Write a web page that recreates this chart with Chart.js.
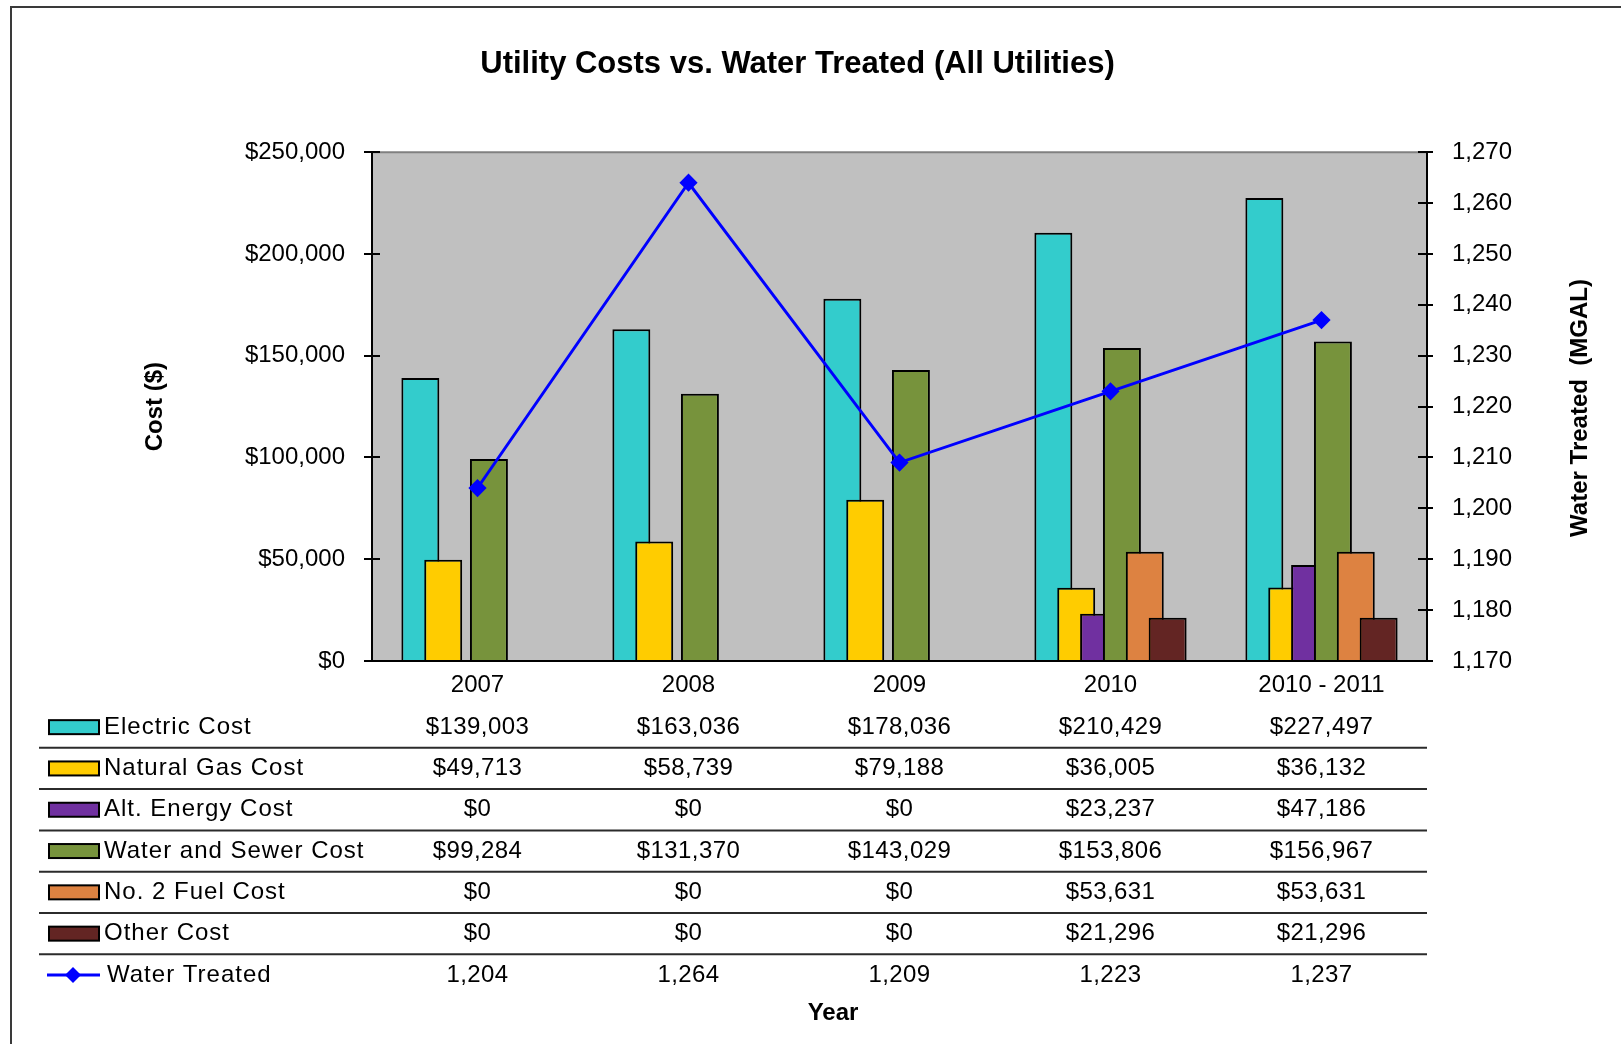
<!DOCTYPE html>
<html>
<head>
<meta charset="utf-8">
<title>Utility Costs vs. Water Treated (All Utilities)</title>
<script src="https://cdn.jsdelivr.net/npm/chart.js@4.4.1/dist/chart.umd.min.js"></script>
<style>
  html, body { margin: 0; padding: 0; background: #ffffff; }
  #wrap { position: relative; width: 1621px; height: 1044px; }
</style>
</head>
<body>
<div id="wrap"><canvas id="chart" width="1621" height="1044"></canvas></div>
<script>
// ---- data ----
const categories = ['2007', '2008', '2009', '2010', '2010 - 2011'];
const electricCost = [139003, 163036, 178036, 210429, 227497];
const naturalGasCost = [49713, 58739, 79188, 36005, 36132];
const altEnergyCost = [0, 0, 0, 23237, 47186];
const waterSewerCost = [99284, 131370, 143029, 153806, 156967];
const fuelOilCost = [0, 0, 0, 53631, 53631];
const otherCost = [0, 0, 0, 21296, 21296];
const waterTreated = [1204, 1264, 1209, 1223, 1237];

const costTicks = { min: 0, max: 250000, step: 50000 };
const waterTicks = { min: 1170, max: 1270, step: 10 };

const FONT = "'Liberation Sans', Arial, sans-serif";

const costSeries = [
  { label: 'Electric Cost', data: electricCost, color: '#33CCCC' },
  { label: 'Natural Gas Cost', data: naturalGasCost, color: '#FFCC00' },
  { label: 'Alt. Energy Cost', data: altEnergyCost, color: '#7030A0' },
  { label: 'Water and Sewer Cost', data: waterSewerCost, color: '#77933C' },
  { label: 'No. 2 Fuel Cost', data: fuelOilCost, color: '#DD8241' },
  { label: 'Other Cost', data: otherCost, color: '#632523' }
];

const money = v => '$' + Math.round(v).toLocaleString('en-US');
const count = v => Math.round(v).toLocaleString('en-US');

const datasets = costSeries.map(s => ({
  type: 'bar',
  label: s.label,
  data: s.data,
  backgroundColor: s.color,
  borderColor: '#000000',
  borderWidth: 2,
  yAxisID: 'y',
  categoryPercentage: 0.65,
  barPercentage: 1.66
}));
datasets.push({
  type: 'line',
  label: 'Water Treated',
  data: waterTreated,
  borderColor: '#0000FF',
  backgroundColor: '#0000FF',
  borderWidth: 3,
  pointStyle: 'rectRot',
  pointRadius: 7,
  pointBackgroundColor: '#0000FF',
  pointBorderColor: '#0000FF',
  tension: 0,
  yAxisID: 'y1'
});

// Frame, grey plot area and tick marks that cross into the plot
const backdrop = {
  id: 'backdrop',
  beforeDraw(chart) {
    const { ctx, chartArea: a } = chart;
    ctx.save();
    ctx.strokeStyle = '#3a3a3a';
    ctx.lineWidth = 2;
    ctx.beginPath();
    ctx.moveTo(11, chart.height);
    ctx.lineTo(11, 7);
    ctx.lineTo(chart.width, 7);
    ctx.stroke();

    ctx.fillStyle = '#C0C0C0';
    ctx.fillRect(a.left, a.top, a.right - a.left, a.bottom - a.top);
    ctx.strokeStyle = '#808080';
    ctx.lineWidth = 2;
    ctx.beginPath();
    ctx.moveTo(a.left, a.top);
    ctx.lineTo(a.right, a.top);
    ctx.stroke();

    ctx.strokeStyle = '#000000';
    ctx.lineWidth = 2;
    const y = chart.scales.y, y1 = chart.scales.y1;
    y.ticks.forEach((t, i) => {
      const py = Math.round(y.getPixelForTick(i));
      ctx.beginPath(); ctx.moveTo(a.left, py); ctx.lineTo(a.left + 8, py); ctx.stroke();
    });
    y1.ticks.forEach((t, i) => {
      const py = Math.round(y1.getPixelForTick(i));
      ctx.beginPath(); ctx.moveTo(a.right - 9, py); ctx.lineTo(a.right, py); ctx.stroke();
    });
    ctx.restore();
  }
};

// Later cost series sit in front of earlier ones; the line goes on top of all bars
const drawOrder = {
  id: 'drawOrder',
  beforeDatasetsDraw(chart) {
    const metas = chart.getSortedVisibleDatasetMetas().slice().sort((p, q) => p.index - q.index);
    const ordered = metas.filter(m => m.type === 'bar').concat(metas.filter(m => m.type !== 'bar'));
    ordered.forEach(m => {
      if (typeof chart._drawDataset === 'function') chart._drawDataset(m);
      else m.controller.draw();
    });
    return false;
  }
};

// Data table under the x axis, right-hand axis title and the "Year" caption
const dataTable = {
  id: 'dataTable',
  afterDraw(chart) {
    const { ctx, chartArea: a } = chart;
    const xs = chart.scales.x;
    const rowTop = a.bottom + 45.5;
    const rowH = 41.3;
    const rows = costSeries.map(s => ({ label: s.label, color: s.color, values: s.data.map(money), kind: 'bar' }));
    rows.push({ label: 'Water Treated', color: '#0000FF', values: waterTreated.map(count), kind: 'line' });

    ctx.save();
    ctx.textBaseline = 'middle';
    ctx.fillStyle = '#000000';
    rows.forEach((r, i) => {
      const cy = rowTop + rowH * (i + 0.5);
      if (r.kind === 'bar') {
        ctx.fillStyle = r.color;
        ctx.fillRect(49, cy - 7, 50, 14);
        ctx.strokeStyle = '#000000';
        ctx.lineWidth = 2;
        ctx.strokeRect(49, cy - 7, 50, 14);
      } else {
        ctx.strokeStyle = r.color;
        ctx.lineWidth = 3;
        ctx.beginPath(); ctx.moveTo(47, cy); ctx.lineTo(100, cy); ctx.stroke();
        ctx.fillStyle = r.color;
        ctx.beginPath();
        ctx.moveTo(73, cy - 8); ctx.lineTo(81, cy); ctx.lineTo(73, cy + 8); ctx.lineTo(65, cy);
        ctx.closePath(); ctx.fill();
      }
      ctx.fillStyle = '#000000';
      ctx.font = '24px ' + FONT;
      ctx.textAlign = 'left';
      ctx.letterSpacing = '1px';
      ctx.fillText(r.label, r.kind === 'bar' ? 104 : 107, cy);
      ctx.letterSpacing = '0.4px';
      ctx.textAlign = 'center';
      r.values.forEach((v, j) => ctx.fillText(v, xs.getPixelForValue(j), cy));
      ctx.letterSpacing = '0px';
      if (i < rows.length - 1) {
        const ly = rowTop + rowH * (i + 1);
        ctx.strokeStyle = '#2b2b2b';
        ctx.lineWidth = 2;
        ctx.beginPath(); ctx.moveTo(39, ly); ctx.lineTo(a.right, ly); ctx.stroke();
      }
    });

    ctx.font = 'bold 24px ' + FONT;
    ctx.textAlign = 'center';
    ctx.fillText('Year', 833, 1013);

    ctx.translate(1580, 408);
    ctx.rotate(-Math.PI / 2);
    ctx.fillText('Water Treated  (MGAL)', 0, 0);
    ctx.restore();
  }
};

new Chart(document.getElementById('chart'), {
  data: { labels: categories, datasets },
  options: {
    responsive: false,
    animation: false,
    events: [],
    layout: { padding: { left: 0, right: 26, top: 0, bottom: 0 } },
    plugins: {
      legend: { display: false },
      tooltip: { enabled: false },
      title: {
        display: true,
        text: 'Utility Costs vs. Water Treated (All Utilities)',
        color: '#000000',
        font: { family: FONT, size: 31, weight: 'bold' },
        padding: { top: 46, bottom: 69 }
      }
    },
    scales: {
      x: {
        type: 'category',
        offset: true,
        grid: { display: false, drawTicks: false },
        border: { display: true, color: '#000000', width: 2 },
        ticks: { color: '#000000', font: { family: FONT, size: 24 }, padding: 10, maxRotation: 0, autoSkip: false },
        afterFit(scale) { scale.height = 383; }
      },
      y: {
        position: 'left',
        min: costTicks.min,
        max: costTicks.max,
        grid: { drawOnChartArea: false, tickLength: 8, color: '#000000', lineWidth: 2 },
        border: { display: true, color: '#000000', width: 2 },
        ticks: { stepSize: costTicks.step, color: '#000000', font: { family: FONT, size: 24 }, padding: 19, callback: v => money(v) },
        title: { display: true, text: 'Cost ($)', color: '#000000', font: { family: FONT, size: 24, weight: 'bold' }, padding: { top: 141, bottom: 0 } },
        afterFit(scale) { scale.width = 372; }
      },
      y1: {
        position: 'right',
        min: waterTicks.min,
        max: waterTicks.max,
        grid: { drawOnChartArea: false, tickLength: 6, color: '#000000', lineWidth: 2 },
        border: { display: true, color: '#000000', width: 2 },
        ticks: { stepSize: waterTicks.step, color: '#000000', font: { family: FONT, size: 24 }, padding: 19, callback: v => count(v) },
        afterFit(scale) { scale.width = 168; }
      }
    }
  },
  plugins: [backdrop, drawOrder, dataTable]
});
</script>
</body>
</html>
